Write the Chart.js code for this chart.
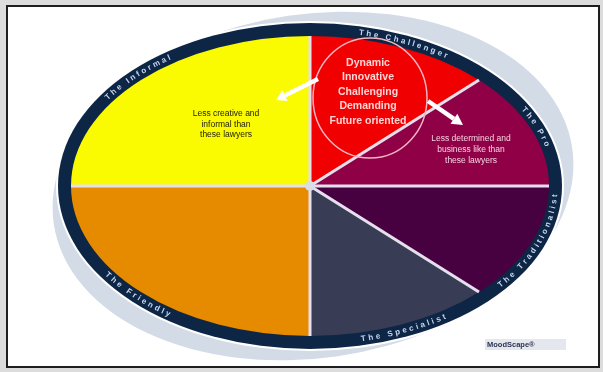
<!DOCTYPE html>
<html><head><meta charset="utf-8">
<script src="https://cdn.jsdelivr.net/npm/chart.js@4.4.0/dist/chart.umd.min.js"></script>
<style>
html,body{margin:0;padding:0;background:#dcdcdc;width:603px;height:372px;overflow:hidden;}
#panel{position:absolute;left:6px;top:5px;width:590px;height:359px;background:#fff;border:2px solid #1e1e1e;}
#c{position:absolute;left:0;top:0;}
</style></head><body>
<div id="panel"></div>
<canvas id="c" width="603" height="372"></canvas>
<script>
// ---- data ----
const categories = ['The Challenger','The Pro','The Traditionalist','The Specialist','The Friendly','The Informal'];
const shares = [12.5, 12.5, 12.5, 12.5, 25, 25];
const sliceColors = ['#f00000','#900046','#470140','#393c55','#e68a00','#fafa00'];
const challengerTraits = ['Dynamic','Innovative','Challenging','Demanding','Future oriented'];
const informalNote = ['Less creative and','informal than','these lawyers'];
const proNote = ['Less determined and','business like than','these lawyers'];
const brand = 'MoodScape\u00AE';

// ---- drawing helpers ----
const STRETCH = 239/150;   // horizontal stretch turning the pie into an oval
const RING = 13;
function ell(ctx,cx,cy,rx,ry,rot){ctx.beginPath();ctx.ellipse(cx,cy,rx,ry,rot||0,0,Math.PI*2);}
function speed(a,b,t){return Math.hypot(a*Math.sin(t), b*Math.cos(t));}
function advance(a,b,t,dist,dir){
  let d=dist;
  while(d>0){const s=Math.min(0.5,d); t+=dir*s/speed(a,b,t); d-=s;}
  return t;
}
function textOnEllipse(ctx,txt,cx,cy,a,b,tMid,spacing){
  const upper=Math.sin(tMid)<0, dir=upper?1:-1;
  const chars=[...txt];
  const w=chars.map(ch=>ctx.measureText(ch).width);
  const total=w.reduce((s,x)=>s+x,0)+spacing*(chars.length-1);
  let t=advance(a,b,tMid,total/2,-dir);
  chars.forEach((ch,i)=>{
    t=advance(a,b,t,w[i]/2,dir);
    const x=cx+a*Math.cos(t), y=cy+b*Math.sin(t);
    const ang=Math.atan2(b*Math.cos(t)*dir, -a*Math.sin(t)*dir);
    ctx.save();ctx.translate(x,y);ctx.rotate(ang);ctx.fillText(ch,0,0);ctx.restore();
    t=advance(a,b,t,w[i]/2+spacing,dir);
  });
}
function arrow(ctx,x1,y1,x2,y2,shaft,head,len){
  const ang=Math.atan2(y2-y1,x2-x1);
  const bx=x2-len*Math.cos(ang), by=y2-len*Math.sin(ang);
  ctx.strokeStyle='#ffffff';ctx.lineWidth=shaft;ctx.lineCap='butt';
  ctx.beginPath();ctx.moveTo(x1,y1);ctx.lineTo(bx,by);ctx.stroke();
  ctx.fillStyle='#ffffff';ctx.beginPath();
  ctx.moveTo(x2,y2);
  ctx.lineTo(bx+head*Math.sin(ang), by-head*Math.cos(ang));
  ctx.lineTo(bx-head*Math.sin(ang), by+head*Math.cos(ang));
  ctx.closePath();ctx.fill();
}

const ovalPlugin={
  id:'oval',
  beforeDatasetsDraw(chart){
    const ctx=chart.ctx, a=chart.getDatasetMeta(0).data[0];
    const cx=a.x, cy=a.y, ry=a.outerRadius, rx=ry*STRETCH;
    ctx.save();
    ell(ctx,cx+3,cy,rx+23,ry+22,-0.145); ctx.fillStyle='#d3dbe7'; ctx.fill();
    ell(ctx,cx,cy,rx+RING+2,ry+RING+2); ctx.fillStyle='#ffffff'; ctx.fill();
    ell(ctx,cx,cy,rx+RING,ry+RING); ctx.fillStyle='#0e2646'; ctx.fill();
    ctx.restore();
    ctx.save();
    ctx.translate(cx,cy); ctx.scale(STRETCH,1); ctx.translate(-cx,-cy);
  },
  afterDatasetsDraw(chart){
    const ctx=chart.ctx; ctx.restore();
    const arcs=chart.getDatasetMeta(0).data;
    const cx=arcs[0].x, cy=arcs[0].y, ry=arcs[0].outerRadius, rx=ry*STRETCH;
    ctx.save();
    // separators
    ctx.strokeStyle='#e6e0ee'; ctx.lineWidth=3;
    arcs.forEach(el=>{
      const t=el.startAngle;
      ctx.beginPath();ctx.moveTo(cx,cy);ctx.lineTo(cx+rx*Math.cos(t),cy+ry*Math.sin(t));ctx.stroke();
    });
    ctx.fillStyle='#dcdce8'; ell(ctx,cx,cy,5,5); ctx.fill();
    // ring labels
    ctx.fillStyle='#c6d6ef'; ctx.font='bold 8px "Liberation Sans", Arial, sans-serif';
    ctx.textAlign='center'; ctx.textBaseline='middle';
    arcs.forEach((el,i)=>{
      const mid=(el.startAngle+el.endAngle)/2;
      textOnEllipse(ctx,categories[i],cx,cy,rx+RING/2,ry+RING/2,mid,2.6);
    });
    // challenger highlight circle
    const hx=cx+60, hy=cy-88;
    ctx.strokeStyle='#f4b4c0'; ctx.lineWidth=1.5; ell(ctx,hx,hy,57,60); ctx.stroke();
    ctx.fillStyle='#ffd4d4'; ctx.font='bold 10.5px "Liberation Sans", Arial, sans-serif';
    challengerTraits.forEach((s,i)=>ctx.fillText(s,hx-2,hy-35+i*14.5));
    // arrows
    arrow(ctx,cx+8,cy-107,cx-34,cy-86,4.5,6,10);
    arrow(ctx,cx+118,cy-85,cx+153,cy-61,4.5,6,11);
    // notes
    ctx.font='8.5px "Liberation Sans", Arial, sans-serif';
    ctx.fillStyle='#22220a';
    informalNote.forEach((s,i)=>ctx.fillText(s,cx-84,cy-72+i*10.5));
    ctx.fillStyle='#f6d2e2';
    proNote.forEach((s,i)=>ctx.fillText(s,cx+161,cy-47+i*11));
    // brand
    ctx.fillStyle='#e4e7ee'; ctx.fillRect(cx+175,cy+153,81,11);
    ctx.fillStyle='#2c3550'; ctx.font='bold 7.5px "Liberation Sans", Arial, sans-serif';
    ctx.textAlign='left'; ctx.fillText(brand,cx+177,cy+159);
    ctx.restore();
  }
};

new Chart(document.getElementById('c'),{
  type:'pie',
  data:{labels:categories,datasets:[{data:shares,backgroundColor:sliceColors,borderWidth:0}]},
  options:{
    responsive:false, animation:false, devicePixelRatio:1,
    radius:150,
    layout:{padding:{left:17,right:0,top:34,bottom:34}},
    plugins:{legend:{display:false},tooltip:{enabled:false}},
    events:[]
  },
  plugins:[ovalPlugin]
});
</script>
</body></html>
